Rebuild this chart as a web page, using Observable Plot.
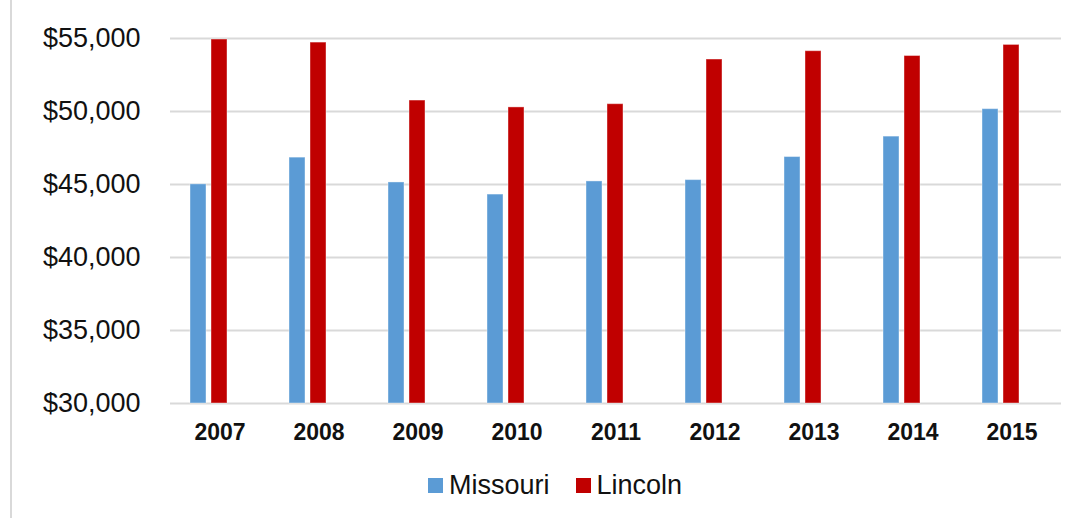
<!DOCTYPE html>
<html>
<head>
<meta charset="utf-8">
<script src="https://cdn.jsdelivr.net/npm/d3@7"></script>
<script src="https://cdn.jsdelivr.net/npm/@observablehq/plot@0.6"></script>
<style>
  html, body { margin: 0; padding: 0; background: #fff; }
  body { width: 1076px; height: 518px; position: relative; overflow: hidden; font-family: "Liberation Sans", Arial, sans-serif; }
  #border { position: absolute; left: 10px; top: 0; width: 2px; height: 518px; background: #d9d9d9; }
  #chart { position: absolute; left: 0; top: 0; }
  #legend { position: absolute; left: 428px; top: 470px; display: flex; align-items: center; font-size: 27px; color: #111; }
  #legend .item { display: flex; align-items: center; margin-right: 26px; }
  #legend .sw { width: 15px; height: 15px; margin-right: 6px; }
</style>
</head>
<body>
<div id="border"></div>
<div id="chart"></div>
<div id="legend"></div>
<script>
const years = ["2007", "2008", "2009", "2010", "2011", "2012", "2013", "2014", "2015"];
const seriesNames = ["Missouri", "Lincoln"];
const seriesColors = ["#5B9BD5", "#C00000"];
const missouri = [45010, 46840, 45140, 44310, 45210, 45300, 46880, 48280, 50160];
const lincoln = [54930, 54720, 50750, 50280, 50500, 53560, 54130, 53800, 54560];
const yTicks = [30000, 35000, 40000, 45000, 50000, 55000];
const yMin = 30000, yMax = 55000;

const data = [];
years.forEach((yr, i) => {
  data.push({year: yr, series: "Missouri", value: missouri[i]});
  data.push({year: yr, series: "Lincoln", value: lincoln[i]});
});

const chart = Plot.plot({
  width: 1076,
  height: 460,
  marginLeft: 167,
  marginRight: 12,
  marginTop: 38,
  marginBottom: 57,
  style: {fontFamily: '"Liberation Sans", Arial, sans-serif', color: "#111", background: "transparent"},
  fx: {domain: years, padding: 0, label: null, axis: null},
  x: {domain: [...seriesNames, "(none)"], paddingInner: 0.227, paddingOuter: 0.872, axis: null},
  y: {domain: [yMin, yMax], ticks: yTicks, label: null},
  color: {domain: seriesNames, range: seriesColors},
  marks: [
    Plot.gridY(yTicks, {stroke: "#d9d9d9", strokeOpacity: 1, strokeWidth: 2}),
    Plot.barY(data, {fx: "year", x: "series", y1: yMin, y2: "value", fill: "series", stroke: "#ffffff", strokeOpacity: 0.4, strokeWidth: 1}),
    Plot.axisY(yTicks, {tickSize: 0, tickPadding: 30, fontSize: 27, tickFormat: d3.format("$,.0f"), label: null}),
    Plot.axisFx({anchor: "bottom", tickSize: 0, tickPadding: 20, fontSize: 23, fontWeight: "bold", label: null})
  ]
});
document.getElementById("chart").appendChild(chart);

const legend = document.getElementById("legend");
seriesNames.forEach((name, i) => {
  const item = document.createElement("div");
  item.className = "item";
  const sw = document.createElement("div");
  sw.className = "sw";
  sw.style.background = seriesColors[i];
  const label = document.createElement("span");
  label.textContent = name;
  item.appendChild(sw);
  item.appendChild(label);
  legend.appendChild(item);
});
</script>
</body>
</html>
